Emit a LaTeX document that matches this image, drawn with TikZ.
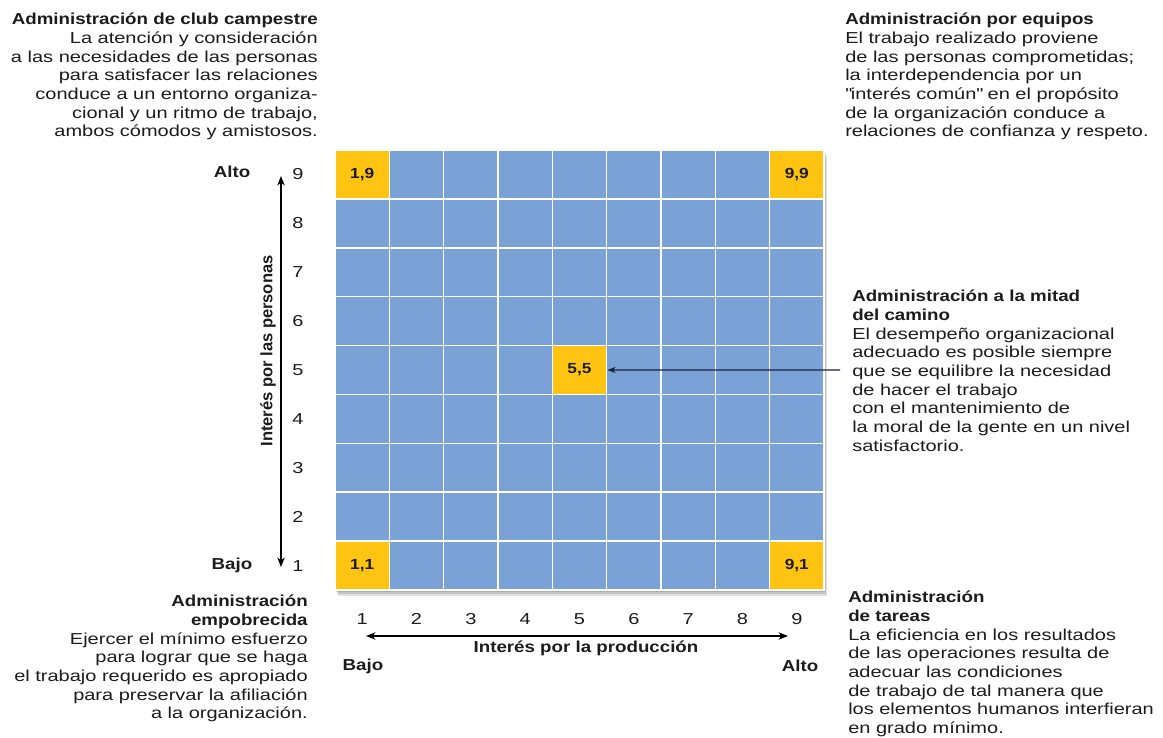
\documentclass[tikz,border=0pt]{standalone}
\usepackage{fontspec}
\setmainfont{Liberation Sans}[FakeStretch=1.26, BoldFeatures={FakeStretch=1.18}]
\newfontfamily\uprightsans{Liberation Sans}
\usetikzlibrary{arrows.meta,positioning}
\definecolor{cellblue}{RGB}{122,162,214}
\definecolor{cellgold}{RGB}{255,196,18}
\definecolor{inkgray}{RGB}{28,28,28}
\definecolor{arrowink}{RGB}{25,35,60}
\tikzset{cellbox/.style={draw=white, line width=1.1pt, fill=cellblue, minimum width=40.75pt, minimum height=36.67pt, inner sep=0pt}}
\tikzset{goldbox/.style={cellbox, fill=cellgold, text=inkgray, font=\bfseries\fontsize{11}{12}\selectfont}}
\tikzset{blurb/.style={inner sep=0pt, text=inkgray, font=\fontsize{11.9}{14}\selectfont}}
\tikzset{numlabel/.style={inner sep=0pt, text=inkgray, font=\fontsize{11.9}{13}\selectfont}}
\tikzset{axisend/.style={inner sep=0pt, text=inkgray, font=\bfseries\fontsize{11.9}{13}\selectfont}}
\tikzset{axisline/.style={<->, >={Stealth[length=7pt, width=5.5pt, inset=2pt]}, line width=1.2pt, draw=black}}

\begin{document}
\begin{tikzpicture}[x=0.75pt, y=-0.75pt]
    \useasboundingbox[fill=white] (0,0) rectangle (1163,738);

    % shadow under the grid
    \foreach \s in {2,4,6}
        \fill[black, opacity=0.12] ({335+\s/2},{150+\s}) rectangle ({824+\s/2},{590+\s});

    % the 9x9 grid
    \foreach \i in {1,...,9}
        \foreach \j in {1,...,9}
            \node[cellbox] (c\i\j) at ({335+54.33*(\i-0.5)}, {590-48.89*(\j-0.5)}) {};

    \node[goldbox] (g11) at (c11) {1,1};
    \node[goldbox] (g19) at (c19) {1,9};
    \node[goldbox] (g91) at (c91) {9,1};
    \node[goldbox] (g99) at (c99) {9,9};
    \node[goldbox] (g55) at (c55) {5,5};

    % axis numbers
    \foreach \j in {1,...,9}
        \node[numlabel] (r\j) at (298, {590-48.89*(\j-0.5)}) {\j};
    \foreach \i in {1,...,9}
        \node[numlabel] (k\i) at ({335+54.33*(\i-0.5)}, 619) {\i};

    % vertical axis
    \coordinate (ytop) at (281,176);
    \coordinate (ybot) at (281,567);
    \draw[axisline] (ybot) -- (ytop);
    \node[axisend] (yhigh) at (232,172) {Alto};
    \node[axisend] (ylow) at (232,565) {Bajo};
    \node[axisend, font=\uprightsans\bfseries\fontsize{12.4}{13}\selectfont, rotate=90] (ytitle) at (268,351) {Interés por las personas};

    % horizontal axis
    \coordinate (xleft) at (366,636);
    \coordinate (xright) at (788,636);
    \draw[axisline] (xleft) -- (xright);
    \node[axisend] (xlow) at (363,666) {Bajo};
    \node[axisend] (xhigh) at (800,666) {Alto};
    \node[axisend] (xtitle) at (586,648) {Interés por la producción};

    % the five styles
    \node[blurb, align=right, anchor=north east] (club) at (318,13) {%
        \textbf{Administración de club campestre}\\
        La atención y consideración\\
        a las necesidades de las personas\\
        para satisfacer las relaciones\\
        conduce a un entorno organiza-\\
        cional y un ritmo de trabajo,\\
        ambos cómodos y amistosos.};

    \node[blurb, align=left, anchor=north west] (team) at (845,13) {%
        \textbf{Administración por equipos}\\
        El trabajo realizado proviene\\
        de las personas comprometidas;\\
        la interdependencia por un\\
        \textquotedbl interés común\textquotedbl{} en el propósito\\
        de la organización conduce a\\
        relaciones de confianza y respeto.};

    \node[blurb, align=left, anchor=north west] (middle) at (852,290) {%
        \textbf{Administración a la mitad}\\
        \textbf{del camino}\\
        El desempeño organizacional\\
        adecuado es posible siempre\\
        que se equilibre la necesidad\\
        de hacer el trabajo\\
        con el mantenimiento de\\
        la moral de la gente en un nivel\\
        satisfactorio.};

    \node[blurb, align=right, anchor=north east] (poor) at (308,595) {%
        \textbf{Administración}\\
        \textbf{empobrecida}\\
        Ejercer el mínimo esfuerzo\\
        para lograr que se haga\\
        el trabajo requerido es apropiado\\
        para preservar la afiliación\\
        a la organización.};

    \node[blurb, align=left, anchor=north west] (task) at (848,591) {%
        \textbf{Administración}\\
        \textbf{de tareas}\\
        La eficiencia en los resultados\\
        de las operaciones resulta de\\
        adecuar las condiciones\\
        de trabajo de tal manera que\\
        los elementos humanos interfieran\\
        en grado mínimo.};

    \coordinate (midtail) at (840,370);
    \draw[->, >={Stealth[length=6pt, width=4.5pt, inset=1.5pt]}, line width=0.9pt, draw=arrowink] (midtail) -- (g55.east);
\end{tikzpicture}
\end{document}
